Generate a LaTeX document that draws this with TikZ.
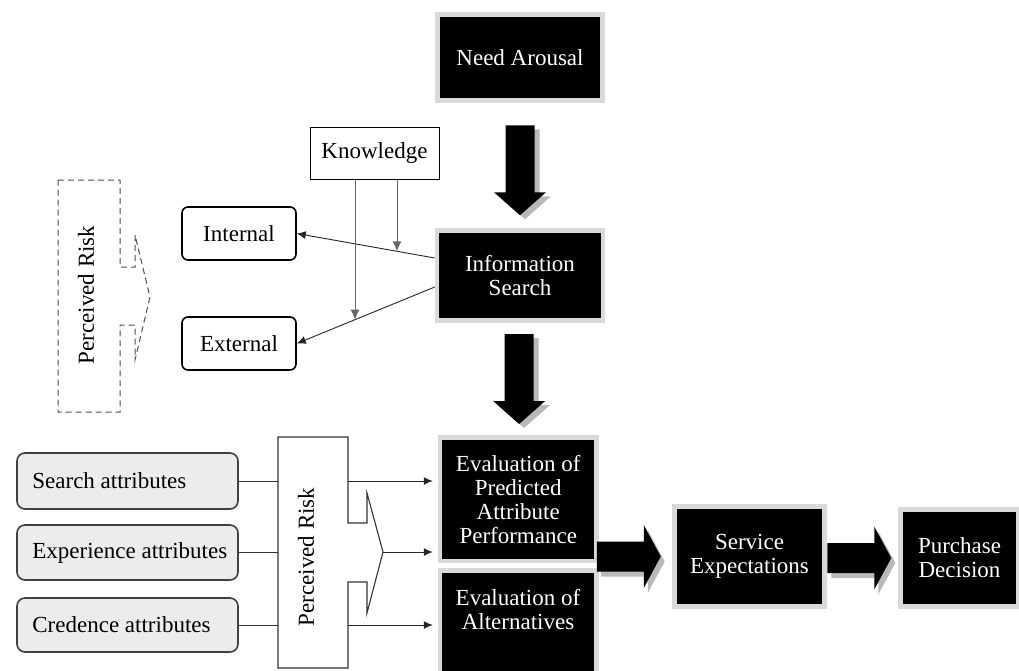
\documentclass[tikz,border=0pt]{standalone}
\usepackage{fontspec}
\setmainfont{Liberation Serif}
\usetikzlibrary{calc,arrows.meta,intersections}
\tikzset{
  vblock/.pic={
    \fill[gray!55, shift={(5,4)}] (-14.5,-45) -- (14.5,-45) -- (14.5,22) -- (26,22) -- (0,45) -- (-26,22) -- (-14.5,22) -- cycle;
    \fill[black] (-14.5,-45) -- (14.5,-45) -- (14.5,22) -- (26,22) -- (0,45) -- (-26,22) -- (-14.5,22) -- cycle;
  },
  hblock/.pic={
    \fill[gray!55, shift={(4,5)}] (-32,-15) -- (15,-15) -- (15,-31.5) -- (32,0) -- (15,31.5) -- (15,15) -- (-32,15) -- cycle;
    \fill[black] (-32,-15) -- (15,-15) -- (15,-31.5) -- (32,0) -- (15,31.5) -- (15,15) -- (-32,15) -- cycle;
  }
}
\begin{document}
\begin{tikzpicture}[x=1pt,y=-1pt,
  every node/.style={font=\fontsize{23}{24}\selectfont, inner sep=0pt},
  blackbox/.style={fill=black, draw=gray!30, line width=4.5pt, text=white, align=center},
  whitebox/.style={draw=black, line width=1pt, fill=white},
  roundbox/.style={draw=black, line width=1.6pt, rounded corners=6pt, fill=white},
  attrbox/.style={draw=black!75, fill=gray!15, line width=1.6pt, rounded corners=8pt},
  thinarrow/.style={-{Latex[length=9pt,width=8pt]}, line width=0.9pt, draw=black!85},
  knowarrow/.style={-{Latex[length=10pt,width=9pt]}, line width=0.9pt, draw=black!60},
  plainline/.style={line width=1pt, draw=black!80},
  prshape/.style={line width=1.1pt, draw=black!80},
  prdashed/.style={dashed, dash pattern=on 6pt off 4pt, line width=1pt, draw=black!70}
]
\useasboundingbox (0,0) rectangle (1019,670);

% main chain boxes
\node[blackbox, minimum width=165, minimum height=86] (need) at (520,57.5) {Need Arousal};
\node[blackbox, minimum width=166, minimum height=90] (info) at (520,275.5) {Information\\Search};
\node[blackbox, minimum width=156.5, minimum height=123.5] (eval1) at (518.25,499.25) {Evaluation of\\Predicted\\Attribute\\Performance};
\node[blackbox, minimum width=156.5, minimum height=120] (eval2) at (518.25,630.5) {};
\node[text=white, align=center] (eval2t) at (518,610) {Evaluation of\\Alternatives};
\node[blackbox, minimum width=150, minimum height=100] (service) at (749.5,556.5) {Service\\Expectations};
\node[blackbox, minimum width=118, minimum height=97] (purchase) at (959.5,558) {Purchase\\Decision};

% block arrows
\pic at ($(need.south)+(0,67.5)$) {vblock};
\pic at ($(info.south)!0.5!(eval1.north)$) {vblock};
\pic at ($(service.west)+(-43.5,0)$) {hblock};
\pic at ($(purchase.west)+(-39,0)$) {hblock};

% knowledge / internal / external
\node[whitebox, minimum width=129, minimum height=52] (know) at (374.5,153) {Knowledge};
\node[roundbox, minimum width=114, minimum height=53] (int) at (239,233.5) {Internal};
\node[roundbox, minimum width=114, minimum height=53] (ext) at (239,343.5) {External};

\draw[thinarrow, name path=toint] ($(info.west)+(0,-17.5)$) -- (int.east);
\draw[thinarrow, name path=toext] ($(info.west)+(0,11.5)$) -- (ext.east);
\coordinate (ka) at ($(know.south)+(-19.5,0)$);
\coordinate (kb) at ($(know.south)+(22.5,0)$);
\path[name path=kapath] (ka) -- ++(0,250);
\path[name path=kbpath] (kb) -- ++(0,250);
\path[name intersections={of=kbpath and toint, by=ib}];
\path[name intersections={of=kapath and toext, by=ia}];
\draw[knowarrow] (kb) -- (ib);
\draw[knowarrow] (ka) -- (ia);

% dashed perceived risk
\draw[prdashed] (58,180) -- (120,180) -- (120,267) -- (135,267) -- (135,235) -- (150,297) -- (135,360) -- (135,325) -- (120,325) -- (120,412) -- (58,412) -- cycle;
\node[rotate=90] (pr0) at (86,295) {Perceived Risk};

% attributes
\node[attrbox, minimum width=221, minimum height=56] (search) at (127.5,481) {};
\node[anchor=west] (searcht) at ($(search.west)+(16,0)$) {Search attributes};
\node[attrbox, minimum width=221, minimum height=55] (exper) at (127.5,552.5) {};
\node[anchor=west] (expert) at ($(exper.west)+(16,0)$) {Experience attributes};
\node[attrbox, minimum width=221, minimum height=54] (cred) at (127.5,625) {};
\node[anchor=west] (credt) at ($(cred.west)+(16,0)$) {Credence attributes};

% solid perceived risk
\node[minimum width=70, minimum height=231] (pr) at (313,552.5) {};
\draw[prshape, fill=white] (278,437) -- (348,437) -- (348,523) -- (367,523) -- (367,493) -- (383,552) -- (367,613) -- (367,582) -- (348,582) -- (348,668) -- (278,668) -- cycle;
\node[rotate=90] (prt) at (306,557) {Perceived Risk};
\coordinate (prtip) at (383,552);

\draw[plainline] (search.east) -- (search.east -| pr.west);
\draw[plainline] (exper.east) -- (exper.east -| pr.west);
\draw[plainline] (cred.east) -- (cred.east -| pr.west);
\draw[thinarrow, shorten >=5pt] (search.east -| pr.east) -- (search.east -| eval1.west);
\draw[thinarrow, shorten >=5pt] (prtip) -- (prtip -| eval1.west);
\draw[thinarrow, shorten >=5pt] (cred.east -| pr.east) -- (cred.east -| eval2.west);
\end{tikzpicture}
\end{document}
